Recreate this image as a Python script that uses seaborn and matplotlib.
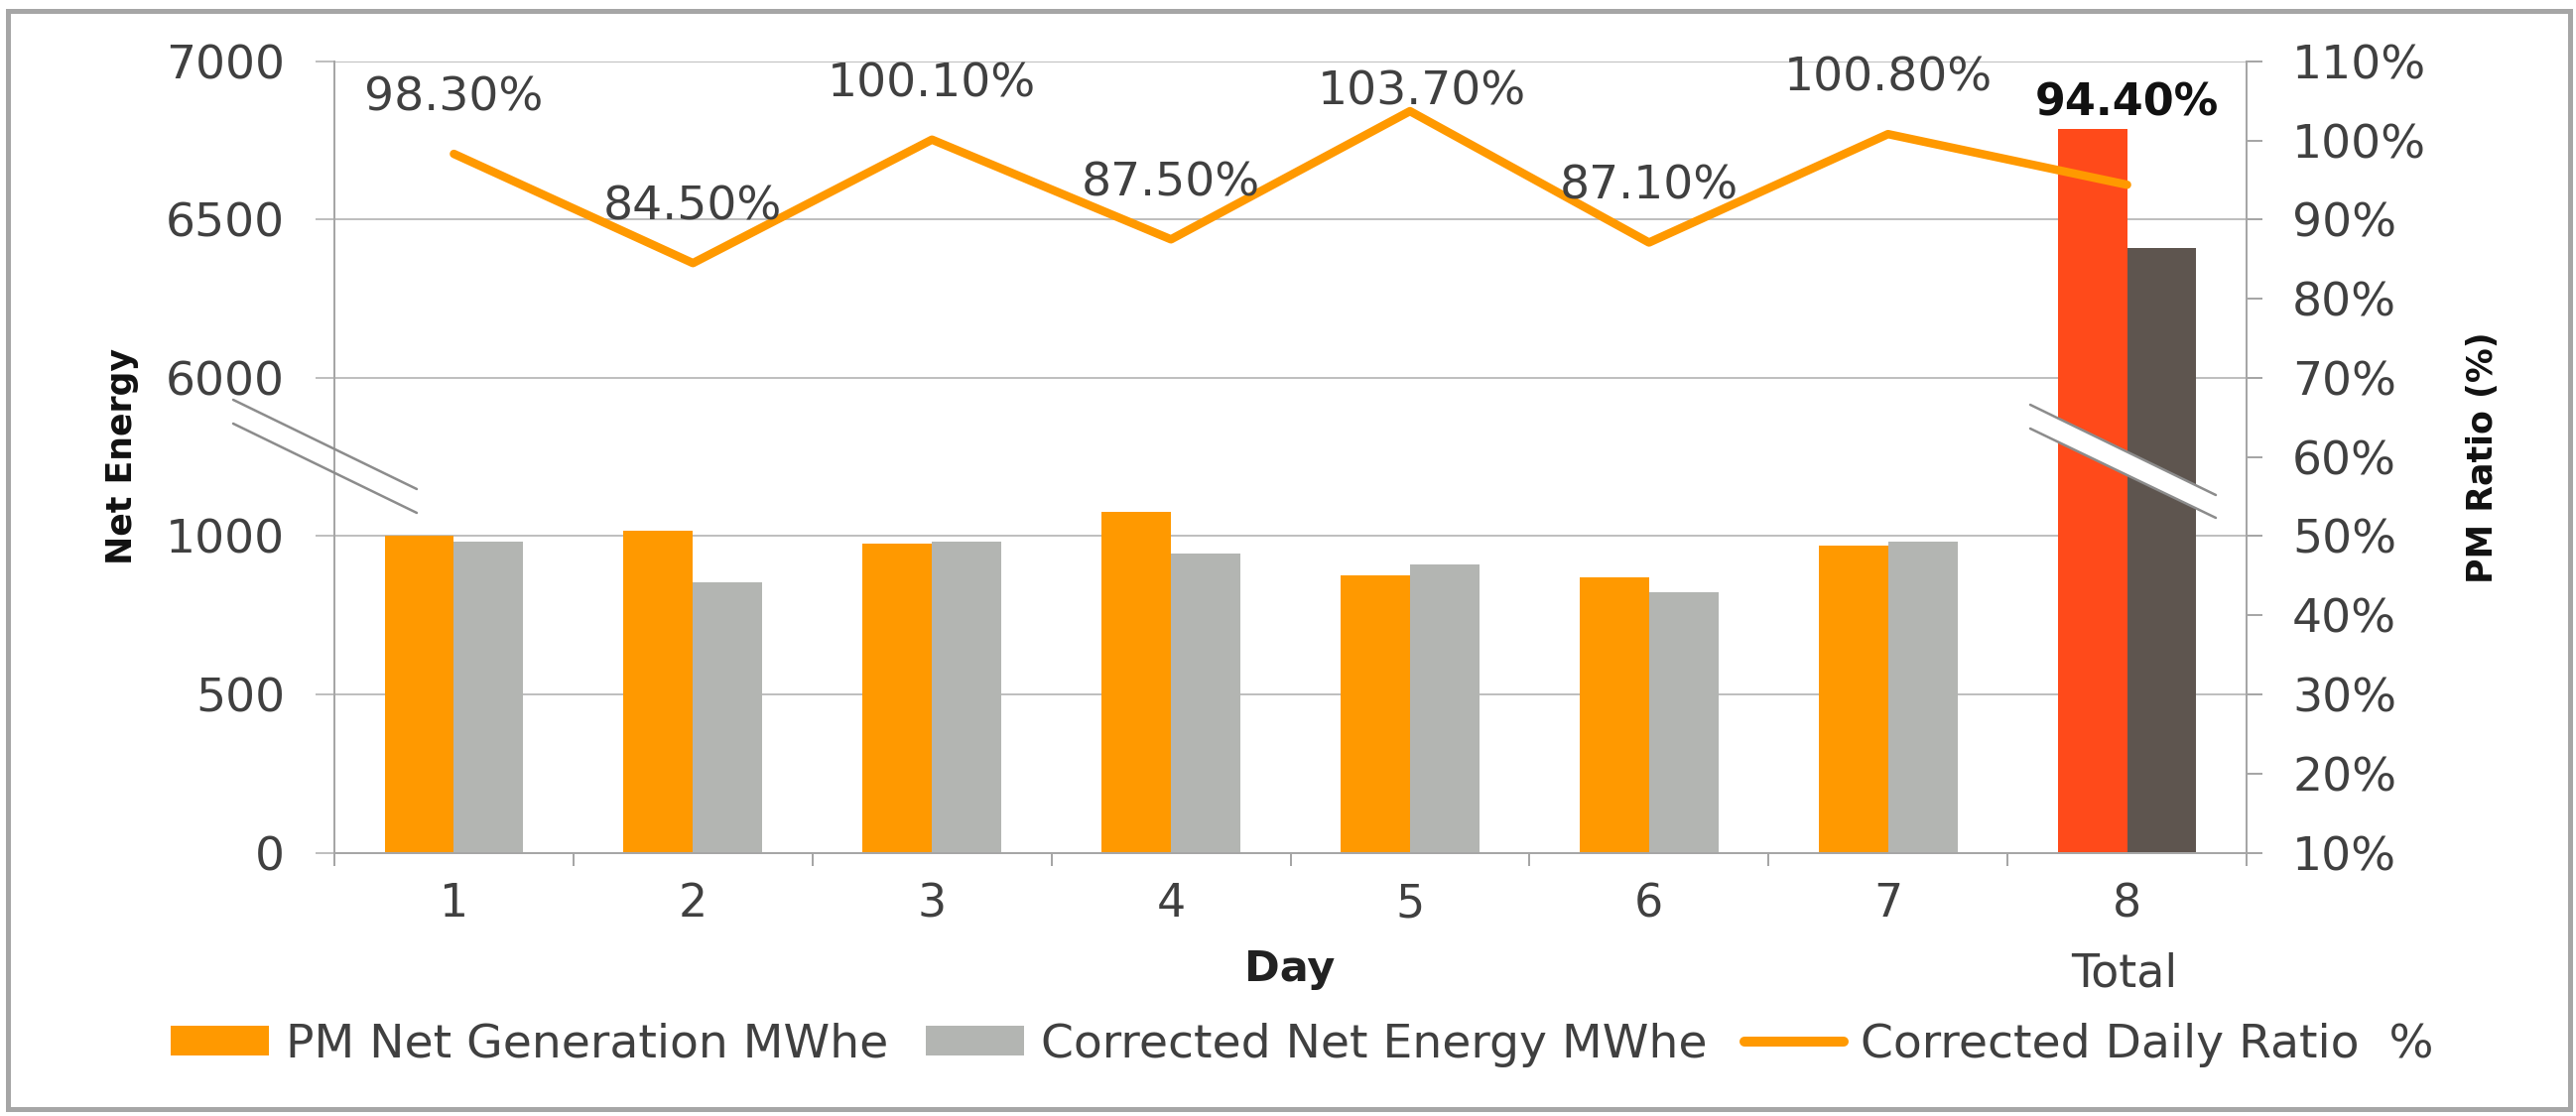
import numpy as np
import pandas as pd
import matplotlib
matplotlib.use("Agg")
import matplotlib.pyplot as plt
import seaborn as sns
from matplotlib.patches import Patch, Rectangle, Polygon
from matplotlib.lines import Line2D

# ---- data ----
days = ["1", "2", "3", "4", "5", "6", "7", "8"]
pm_net_generation = [1000, 1017, 977, 1078, 875, 869, 971, 6787]
corrected_net_energy = [984, 855, 982, 944, 910, 823, 982, 6409]
daily_ratio = [98.3, 84.5, 100.1, 87.5, 103.7, 87.1, 100.8, 94.4]
energy_ticks = [0, 500, 1000, 6000, 6500, 7000]
ratio_ticks = [10, 20, 30, 40, 50, 60, 70, 80, 90, 100, 110]
series_names = ["PM Net Generation MWhe", "Corrected Net Energy MWhe",
                "Corrected Daily Ratio  %"]

# ---- styling ----
ORANGE = "#FF9900"
GREY = "#B3B5B2"
TOTAL_RED = "#FF4A1A"
TOTAL_DARK = "#5E554F"
AXIS_GREY = "#A6A6A6"
GRID_GREY = "#BFBFBF"
TEXT = "#404040"

sns.set_style("white")
plt.rcParams["font.family"] = ["DejaVu Sans"]

W, H = 2596, 1125
fig = plt.figure(figsize=(W / 100, H / 100), dpi=100)


def fx(px):
    return px / W


def fy(py):
    return 1 - py / H


def pt(px):
    return px * 72 / 100


ax = fig.add_axes([fx(337), fy(859.5), fx(2264) - fx(337), fy(61.8) - fy(859.5)])

# broken energy axis: the daily range and the 6000-7000 range keep the same
# unit size; the stretch 1250-6000 is folded into a short gap
brk_v = [-1e6, 0, 1250, 6000, 7000, 1e6]
brk_p = [-1e6, 0, 1250, 1500, 2500, 2500 + (1e6 - 7000)]


def fwd(v):
    return np.interp(v, brk_v, brk_p)


def inv(p):
    return np.interp(p, brk_p, brk_v)


ax.set_yscale("function", functions=(fwd, inv))

df = pd.DataFrame({
    "Day": days * 2,
    "Series": [series_names[0]] * len(days) + [series_names[1]] * len(days),
    "Energy": pm_net_generation + corrected_net_energy,
})

sns.barplot(data=df, x="Day", y="Energy", hue="Series", order=days,
            hue_order=series_names[:2], palette=[ORANGE, GREY], width=0.58,
            linewidth=0, saturation=1, legend=False, ax=ax, zorder=2)

# the total column gets its own colours
ax.containers[0][-1].set_facecolor(TOTAL_RED)
ax.containers[1][-1].set_facecolor(TOTAL_DARK)

ax.set_ylim(0, 7000)
ax.set_xlim(-0.5, len(days) - 0.5)
ax.set_yticks(energy_ticks)
ax.set_yticklabels([str(t) for t in energy_ticks])
ax.yaxis.grid(True, color=GRID_GREY, lw=pt(2))
ax.set_axisbelow(True)
ax.set_xlabel("")
ax.set_ylabel("")

ax.set_xticks(range(len(days)))
ax.set_xticklabels(days)
ax.set_xticks(np.arange(-0.5, len(days), 1), minor=True)
ax.tick_params(axis="x", which="major", bottom=True, length=0, pad=pt(30),
               labelsize=33, labelcolor=TEXT)
ax.tick_params(axis="x", which="minor", bottom=True, length=pt(13),
               width=pt(2), color=AXIS_GREY, direction="out")
ax.tick_params(axis="y", which="major", left=True, length=pt(19),
               width=pt(2), color=GRID_GREY, direction="out", pad=pt(31),
               labelsize=34, labelcolor=TEXT)
ax.tick_params(axis="y", which="minor", left=False)

for s in ["top", "right"]:
    ax.spines[s].set_visible(False)
for s in ["left", "bottom"]:
    ax.spines[s].set_color(AXIS_GREY)
    ax.spines[s].set_linewidth(pt(2))

# ratio line on the secondary axis
ax2 = ax.twinx()
sns.lineplot(x=np.arange(len(days)), y=daily_ratio, ax=ax2, color=ORANGE,
             lw=pt(8.5), legend=False, zorder=3)
ax2.set_ylim(10, 110)
ax2.set_yticks(ratio_ticks)
ax2.set_yticklabels([f"{t}%" for t in ratio_ticks])
ax2.tick_params(axis="y", right=True, length=pt(16), width=pt(2),
                color=AXIS_GREY, direction="out", pad=pt(30), labelsize=34,
                labelcolor=TEXT)
ax2.set_ylabel("")
for s in ["top", "left", "bottom"]:
    ax2.spines[s].set_visible(False)
ax2.spines["right"].set_color(AXIS_GREY)
ax2.spines["right"].set_linewidth(pt(2))

# value labels above the line points
label_shift_px = {4: (12, 19), 7: (0, 82)}
for i, v in enumerate(daily_ratio):
    dx, dy = label_shift_px.get(i, (0, 56))
    last = i == len(daily_ratio) - 1
    ax2.annotate(f"{v:.2f}%", xy=(i, v), xytext=(pt(dx), pt(dy)),
                 textcoords="offset points", ha="center", va="center",
                 fontsize=32 if last else 34,
                 fontweight="bold" if last else "normal",
                 color="#111111" if last else TEXT, zorder=5)

# axis titles
fig.text(fx(123), fy(460), "Net Energy", rotation=90, ha="center",
         va="center", fontsize=25, fontweight="bold", color="#111111")
fig.text(fx(2502), fy(461), "PM Ratio (%)", rotation=90, ha="center",
         va="center", fontsize=25, fontweight="bold", color="#111111")
fig.text(fx(1300), fy(977), "Day", ha="center", va="center", fontsize=31,
         fontweight="bold", color="#222222")
fig.text(fx(2141), fy(982), "Total", ha="center", va="center", fontsize=33,
         color=TEXT)

# axis break marks
for y0, y1 in [(403, 493), (427, 517)]:
    fig.add_artist(Line2D([fx(235), fx(420)], [fy(y0), fy(y1)],
                          transform=fig.transFigure, color="#8C8C8C",
                          lw=pt(2.5), zorder=6))

band = Polygon([(fx(2046), fy(408)), (fx(2233), fy(499)),
                (fx(2233), fy(522)), (fx(2046), fy(432))],
               closed=True, transform=fig.transFigure, facecolor="white",
               edgecolor="none", zorder=6)
fig.add_artist(band)
for y0, y1 in [(408, 499), (432, 522)]:
    fig.add_artist(Line2D([fx(2046), fx(2233)], [fy(y0), fy(y1)],
                          transform=fig.transFigure, color="#8C8C8C",
                          lw=pt(2.5), zorder=7))

# legend
handles = [Patch(facecolor=ORANGE, edgecolor="none"),
           Patch(facecolor=GREY, edgecolor="none"),
           Line2D([], [], color=ORANGE, lw=pt(10))]
fig.legend(handles, series_names, loc="center",
           bbox_to_anchor=(fx(1312), fy(1053)), ncol=3, frameon=False,
           fontsize=34, labelcolor=TEXT, handlelength=2.1, handleheight=0.62,
           handletextpad=0.36, columnspacing=0.8)

# outer frame
fig.add_artist(Rectangle((fx(8), fy(1118)), fx(2590) - fx(8),
                         fy(11) - fy(1118), transform=fig.transFigure,
                         fill=False, edgecolor=AXIS_GREY, lw=pt(5)))

fig.savefig("out.png", dpi=100)
